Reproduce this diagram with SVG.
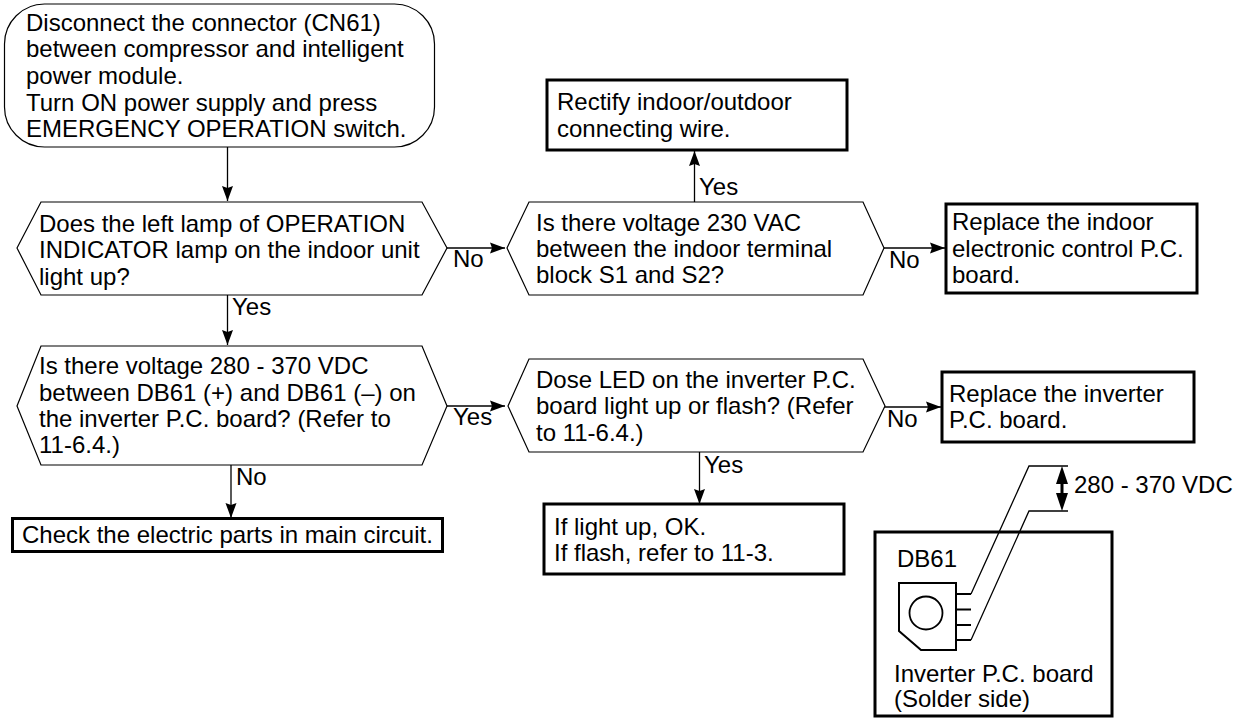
<svg xmlns="http://www.w3.org/2000/svg" width="1244" height="718" viewBox="0 0 1244 718">
<defs><marker id="a" markerUnits="userSpaceOnUse" markerWidth="16" markerHeight="12" refX="15" refY="6" orient="auto-start-reverse"><path d="M0 .5L15 6L0 11.5L2 6Z" fill="#000"/></marker></defs>
<style>
text{font-family:"Liberation Sans",Arial,sans-serif;font-size:24px;fill:#000}
.n{fill:#fff;stroke:#000;stroke-width:1.2}
.b{fill:#fff;stroke:#000;stroke-width:3}
.c{fill:none;stroke:#000;stroke-width:1.3}
.k{marker-end:url(#a)}
</style>
<rect width="1244" height="718" fill="#fff"/>
<g id="connectors">
<path class="c k" d="M227.500 147V201"/>
<path class="c k" d="M447 248H505"/>
<path class="c k" d="M694.500 202V151"/>
<path class="c k" d="M884 248H945"/>
<path class="c k" d="M227.500 295V345"/>
<path class="c k" d="M231 465V518"/>
<path class="c k" d="M447 406H505"/>
<path class="c k" d="M882 407H941"/>
<path class="c k" d="M699.500 452V504"/>
</g>
<g id="n1"><rect class="n" x="4.500" y="4" width="430" height="143" rx="40"/><text x="26" y="31">Disconnect the connector (CN61)</text><text x="26" y="57">between compressor and intelligent</text><text x="26" y="84">power module.</text><text x="26" y="111">Turn ON power supply and press</text><text x="26" y="137">EMERGENCY OPERATION switch.</text></g>
<g id="n2"><polygon class="n" points="17,248 41,202 422,202 447,248 422,295 41,295"/><text x="39" y="232">Does the left lamp of OPERATION</text><text x="39" y="258">INDICATOR lamp on the indoor unit</text><text x="39" y="285">light up?</text></g>
<g id="n3"><polygon class="n" points="507,248 529,202 863,202 884,248 863,295 529,295"/><text x="536" y="231">Is there voltage 230 VAC</text><text x="536" y="257">between the indoor terminal</text><text x="536" y="283">block S1 and S2?</text></g>
<g id="n4"><rect class="b" x="547" y="80" width="300" height="70"/><text x="557" y="110">Rectify indoor/outdoor</text><text x="557" y="137">connecting wire.</text></g>
<g id="n5"><rect class="b" x="946" y="204" width="251" height="89"/><text x="952" y="230">Replace the indoor</text><text x="952" y="257">electronic control P.C.</text><text x="952" y="283">board.</text></g>
<g id="n6"><polygon class="n" points="17,406 41,346 422,346 447,406 422,465 41,465"/><text x="39" y="374">Is there voltage 280 - 370 VDC</text><text x="39" y="401">between DB61 (+) and DB61 (–) on</text><text x="39" y="427">the inverter P.C. board? (Refer to</text><text x="39" y="453">11-6.4.)</text></g>
<g id="n7"><polygon class="n" points="508,406 529,359 863,359 885,406 863,452 529,452"/><text x="536" y="388">Dose LED on the inverter P.C.</text><text x="536" y="414">board light up or flash? (Refer</text><text x="536" y="441">to 11-6.4.)</text></g>
<g id="n8"><rect class="b" x="942" y="372" width="252" height="70"/><text x="949" y="402">Replace the inverter</text><text x="949" y="428">P.C. board.</text></g>
<g id="n9"><rect class="b" x="12.500" y="518.500" width="430" height="33"/><text x="22" y="543">Check the electric parts in main circuit.</text></g>
<g id="n10"><rect class="b" x="544" y="504" width="300" height="70"/><text x="554" y="535">If light up, OK.</text><text x="554" y="561">If flash, refer to 11-3.</text></g>
<g id="labels"><text x="453" y="267">No</text><text x="699" y="195">Yes</text><text x="889" y="268">No</text><text x="232" y="315">Yes</text><text x="236" y="485">No</text><text x="453" y="425">Yes</text><text x="887" y="427">No</text><text x="704" y="473">Yes</text></g>
<g id="board"><rect class="b" x="875" y="532" width="237" height="184"/><text x="897" y="567">DB61</text><text x="894" y="682">Inverter P.C. board</text><text x="894" y="707">(Solder side)</text>
<path class="n" style="stroke-width:2" d="M899 583H956V650H921L899 631Z"/><circle class="n" style="stroke-width:1.800" cx="926" cy="613" r="16.500"/>
<path class="c" style="stroke-width:2" d="M956 594H971M956 609.500H971M956 625H971M956 640H971"/>
<path class="c" d="M971 594L1029 466H1068M971 640L1029 511H1068"/>
<path d="M1062 466L1068 484H1063.500V493H1068L1062 511L1056 493H1060.500V484H1056Z" fill="#000"/>
<text x="1074" y="493">280 - 370 VDC</text></g>
</svg>
